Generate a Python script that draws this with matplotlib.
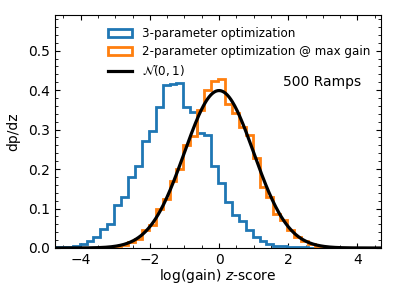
import numpy as np
import matplotlib
matplotlib.use('Agg')
import matplotlib.pyplot as plt
from matplotlib.ticker import AutoMinorLocator

# bin edges shared by both histograms (width 0.2)
edge_start = -4.83
bin_width = 0.2

# 3-parameter optimization, bin heights from left edge -4.83
h_three = [0.002, 0.003, 0.003, 0.004, 0.009, 0.018, 0.028, 0.049, 0.060, 0.108,
           0.128, 0.179, 0.207, 0.271, 0.296, 0.356, 0.413, 0.415, 0.419, 0.358,
           0.345, 0.292, 0.287, 0.207, 0.165, 0.117, 0.083, 0.068, 0.045, 0.028,
           0.017, 0.009, 0.006, 0.004, 0.003, 0.002, 0.002, 0.001, 0.001, 0.001]

# 2-parameter optimization @ max gain, bin heights from left edge -3.43
orange_start = -3.43
h_two = [0.001, 0.002, 0.004, 0.007, 0.014, 0.022, 0.045, 0.058, 0.100, 0.125,
         0.170, 0.200, 0.262, 0.284, 0.350, 0.400, 0.424, 0.428, 0.366, 0.341,
         0.307, 0.286, 0.227, 0.155, 0.129, 0.087, 0.072, 0.045, 0.028, 0.018,
         0.010, 0.006, 0.003, 0.002, 0.001, 0.001, 0.0005, 0.0005, 0.0005, 0.0005,
         0.0005]

e_three = edge_start + bin_width * np.arange(len(h_three) + 1)
e_two = orange_start + bin_width * np.arange(len(h_two) + 1)

plt.rcParams.update({'xtick.direction': 'in', 'ytick.direction': 'in',
                     'xtick.top': True, 'ytick.right': True,
                     'xtick.labelsize': 10, 'ytick.labelsize': 10,
                     'axes.labelsize': 10})

fig = plt.figure(figsize=(3.96, 2.97), dpi=100)
ax = fig.add_axes([0.139, 0.165, 0.823, 0.784])

ax.hist(e_three[:-1], bins=e_three, weights=h_three, histtype='step',
        color='tab:blue', lw=2, label='3-parameter optimization')
ax.hist(e_two[:-1], bins=e_two, weights=h_two, histtype='step',
        color='tab:orange', lw=2, label='2-parameter optimization @ max gain')

z = np.linspace(-4.74, 4.68, 400)
ax.plot(z, np.exp(-z**2 / 2) / np.sqrt(2 * np.pi), color='k', lw=2.3,
        label=r'$\mathcal{N}(0, 1)$')

ax.text(1.85, 0.42, '500 Ramps', fontsize=10, va='center')

ax.set_xlim(-4.74, 4.68)
ax.set_ylim(0, 0.59)
ax.set_xticks([-4, -2, 0, 2, 4])
ax.xaxis.set_minor_locator(AutoMinorLocator())
ax.yaxis.set_minor_locator(AutoMinorLocator())
ax.tick_params(which='both', direction='in', top=True, right=True)
ax.set_xlabel('log(gain) $z$-score', labelpad=0)
ax.set_ylabel('dp/dz', labelpad=6)
ax.legend(loc='upper left', bbox_to_anchor=(0.13, 0.995), frameon=False,
          fontsize=8.6, handlelength=2, labelspacing=0.42)

plt.savefig('out.png', dpi=100)
plt.close(fig)
